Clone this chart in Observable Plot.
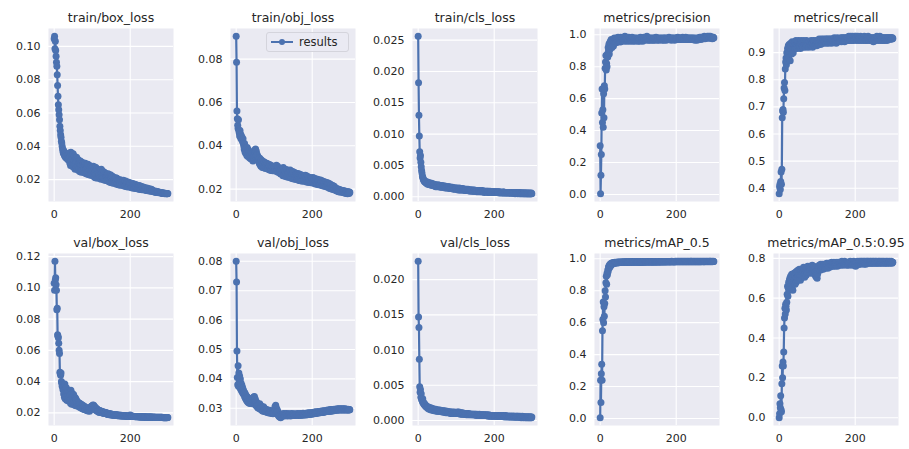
<!DOCTYPE html>
<html>
<head>
<meta charset="utf-8">
<script src="https://cdn.jsdelivr.net/npm/d3@7"></script>
<script src="https://cdn.jsdelivr.net/npm/@observablehq/plot@0.6"></script>
<style>
  body { margin: 0; background: #fff; }
  #fig { position: relative; width: 909px; height: 449px; overflow: hidden; background: #fff;
         font-family: "DejaVu Sans", sans-serif; }
  #fig > svg { position: absolute; }
  #legend { position: absolute; left: 266px; top: 32px; width: 83px; height: 20px; box-sizing: border-box;
            background: rgba(234,234,242,0.8); border: 1px solid #d4d4dc; border-radius: 3px;
            display: flex; align-items: center; font-size: 11.5px; color: #262626; }
  #legend svg { margin: 0 5px 0 3px; }
</style>
</head>
<body>
<div id="fig"></div>
<script>
// Per-epoch training log (epochs 0..299), one array per logged metric.
const trainBox = [
.1045,.1060,.0985,.1030,.0975,.0940,.0905,.0880,.0830,.0765,.0700,.0650,.0620,.0590,.0560,.0520,.0495,.0470,.0455,.0430,
.0420,.0400,.0385,.0372,.0360,.0375,.0352,.0345,.0362,.0338,.0350,.0331,.0356,.0342,.0325,.0348,.0336,.0318,.0340,.0329,
.0360,.0300,.0338,.0285,.0365,.0318,.0290,.0350,.0280,.0325,.0355,.0275,.0312,.0340,.0288,.0262,.0330,.0298,.0272,.0335,
.0310,.0262,.0322,.0280,.0255,.0315,.0270,.0298,.0248,.0312,.0266,.0292,.0245,.0305,.0260,.0288,.0250,.0300,.0262,.0242,
.0288,.0245,.0298,.0258,.0236,.0290,.0250,.0275,.0232,.0292,.0245,.0270,.0230,.0285,.0240,.0268,.0226,.0280,.0240,.0230,
.0272,.0225,.0258,.0280,.0232,.0218,.0268,.0240,.0212,.0275,.0230,.0258,.0210,.0265,.0235,.0220,.0258,.0208,.0245,.0222,
.0255,.0212,.0238,.0202,.0262,.0218,.0242,.0205,.0250,.0210,.0232,.0198,.0245,.0215,.0200,.0238,.0195,.0225,.0230,.0198,
.0228,.0195,.0235,.0205,.0188,.0225,.0200,.0185,.0230,.0196,.0215,.0182,.0222,.0194,.0180,.0218,.0188,.0210,.0178,.0205,
.0205,.0178,.0212,.0188,.0172,.0208,.0182,.0176,.0202,.0170,.0196,.0180,.0168,.0200,.0174,.0190,.0166,.0196,.0172,.0185,
.0190,.0166,.0196,.0172,.0162,.0188,.0170,.0160,.0192,.0165,.0180,.0158,.0186,.0166,.0176,.0156,.0184,.0162,.0174,.0160,
.0180,.0158,.0170,.0152,.0178,.0156,.0166,.0150,.0175,.0155,.0164,.0148,.0172,.0152,.0162,.0147,.0170,.0151,.0160,.0146,
.0162,.0147,.0158,.0143,.0165,.0146,.0156,.0141,.0160,.0144,.0152,.0140,.0158,.0142,.0150,.0139,.0155,.0141,.0148,.0138,
.0150,.0138,.0146,.0135,.0150,.0137,.0143,.0133,.0147,.0136,.0141,.0132,.0144,.0134,.0140,.0131,.0142,.0133,.0138,.0130,
.0133,.0128,.0131,.0127,.0132,.0126,.0129,.0124,.0130,.0125,.0127,.0123,.0128,.0124,.0126,.0122,.0125,.0123,.0124,.0121,
.0123,.0120,.0122,.0119,.0121,.0118,.0120,.0117,.0119,.0118,.0118,.0116,.0118,.0117,.0117,.0116,.0117,.0116,.0116,.0117
];
const trainObj = [
.0905,.0785,.0560,.0525,.0495,.0480,.0520,.0470,.0460,.0445,.0470,.0455,.0435,.0448,.0430,.0440,.0425,.0418,.0432,.0410,
.0400,.0385,.0410,.0372,.0395,.0365,.0388,.0378,.0355,.0392,.0368,.0350,.0382,.0360,.0375,.0345,.0370,.0358,.0340,.0368,
.0352,.0338,.0365,.0345,.0330,.0360,.0348,.0372,.0355,.0380,.0368,.0385,.0350,.0375,.0342,.0360,.0335,.0352,.0328,.0345,
.0330,.0318,.0342,.0312,.0325,.0305,.0335,.0315,.0322,.0300,.0328,.0310,.0318,.0298,.0325,.0306,.0315,.0295,.0320,.0302,
.0310,.0296,.0318,.0300,.0292,.0315,.0298,.0305,.0288,.0312,.0295,.0302,.0286,.0308,.0293,.0300,.0285,.0305,.0290,.0298,
.0295,.0285,.0305,.0290,.0300,.0282,.0310,.0295,.0288,.0305,.0278,.0298,.0285,.0292,.0275,.0290,.0282,.0270,.0288,.0276,
.0295,.0272,.0288,.0262,.0300,.0278,.0262,.0292,.0268,.0285,.0258,.0290,.0270,.0280,.0256,.0288,.0265,.0276,.0255,.0282,
.0278,.0255,.0288,.0262,.0275,.0250,.0282,.0258,.0272,.0248,.0280,.0256,.0268,.0246,.0276,.0254,.0266,.0244,.0272,.0250,
.0266,.0246,.0272,.0250,.0262,.0240,.0270,.0248,.0258,.0238,.0266,.0245,.0256,.0237,.0264,.0244,.0255,.0236,.0260,.0242,
.0258,.0238,.0264,.0242,.0252,.0233,.0260,.0240,.0250,.0231,.0256,.0238,.0248,.0230,.0254,.0236,.0246,.0229,.0251,.0234,
.0248,.0230,.0254,.0234,.0244,.0226,.0250,.0231,.0241,.0224,.0247,.0229,.0239,.0222,.0245,.0227,.0236,.0220,.0242,.0225,
.0236,.0220,.0242,.0223,.0233,.0216,.0238,.0221,.0230,.0214,.0235,.0219,.0228,.0213,.0233,.0217,.0226,.0211,.0230,.0215,
.0224,.0209,.0228,.0212,.0220,.0204,.0225,.0208,.0217,.0201,.0220,.0206,.0213,.0199,.0216,.0203,.0210,.0197,.0213,.0200,
.0203,.0196,.0205,.0194,.0200,.0191,.0202,.0193,.0197,.0188,.0199,.0192,.0195,.0186,.0197,.0190,.0193,.0185,.0194,.0188,
.0191,.0185,.0193,.0184,.0189,.0182,.0191,.0184,.0187,.0180,.0189,.0183,.0186,.0179,.0188,.0182,.0186,.0180,.0187,.0184
];
const trainCls = [
.0256,.0182,.0130,.0097,.0072,.0062,.0066,.0055,.0048,.0042,.0038,.0033,.0031,.0029,.0027,.0026,.0025,.0024,.0025,.0023,
.0023,.0022,.0024,.0021,.0022,.0020,.0023,.0021,.0020,.0022,.0019,.0021,.0020,.0022,.0019,.0020,.0018,.0021,.0019,.0020,
.0019,.0018,.0020,.0017,.0019,.0018,.0016,.0019,.0017,.0018,.0016,.0018,.0017,.0019,.0016,.0017,.0018,.0016,.0017,.0015,
.0017,.0016,.0018,.0015,.0017,.0016,.0015,.0017,.0016,.0015,.0017,.0014,.0016,.0015,.0016,.0014,.0016,.0015,.0014,.0016,
.0015,.0014,.0016,.0013,.0015,.0014,.0013,.0015,.0014,.0013,.0015,.0013,.0014,.0012,.0014,.0013,.0014,.0012,.0013,.0014,
.0013,.0012,.0014,.0012,.0013,.0011,.0013,.0012,.0014,.0011,.0013,.0012,.0011,.0013,.0012,.0011,.0012,.0013,.0011,.0012,
.0012,.0011,.0012,.0010,.0012,.0011,.0010,.0012,.0011,.0010,.0011,.0012,.0010,.0011,.0010,.0011,.0009,.0011,.0010,.0011,
.0010,.0011,.0009,.0010,.0011,.0009,.0010,.0009,.0011,.0010,.0009,.0010,.0009,.0010,.0008,.0010,.0009,.0010,.0008,.0009,
.0009,.0010,.0008,.0009,.0010,.0008,.0009,.0008,.0009,.0010,.0008,.0009,.0008,.0009,.0007,.0009,.0008,.0009,.0008,.0008,
.0009,.0008,.0009,.0007,.0008,.0009,.0008,.0007,.0008,.0009,.0007,.0008,.0008,.0007,.0008,.0007,.0008,.0008,.0007,.0008,
.0008,.0007,.0008,.0007,.0008,.0007,.0007,.0008,.0007,.0008,.0007,.0007,.0008,.0006,.0007,.0008,.0007,.0007,.0006,.0007,
.0007,.0007,.0006,.0007,.0008,.0006,.0007,.0007,.0006,.0007,.0007,.0006,.0007,.0006,.0007,.0007,.0006,.0007,.0006,.0007,
.0006,.0007,.0006,.0007,.0006,.0006,.0007,.0006,.0006,.0007,.0006,.0006,.0007,.0006,.0006,.0005,.0006,.0007,.0006,.0006,
.0006,.0006,.0005,.0006,.0006,.0007,.0006,.0005,.0006,.0006,.0005,.0006,.0006,.0005,.0006,.0006,.0005,.0006,.0005,.0006,
.0005,.0006,.0005,.0006,.0005,.0006,.0005,.0005,.0006,.0005,.0005,.0006,.0005,.0005,.0006,.0005,.0005,.0005,.0006,.0005
];
const precision = [
.305,.005,.120,.250,.510,.660,.450,.530,.420,.630,.480,.680,.660,.790,.830,.870,.780,.820,.800,.880,
.860,.920,.900,.940,.880,.950,.910,.960,.930,.970,.940,.920,.960,.950,.970,.930,.960,.980,.950,.970,
.960,.975,.950,.980,.965,.970,.955,.985,.970,.960,.980,.965,.975,.955,.985,.970,.960,.980,.975,.965,
.980,.965,.985,.970,.960,.990,.975,.965,.980,.970,.985,.960,.975,.980,.965,.985,.970,.975,.960,.980,
.970,.980,.965,.975,.985,.960,.975,.970,.980,.965,.975,.960,.980,.970,.965,.975,.980,.965,.970,.960,
.975,.965,.980,.970,.960,.975,.985,.970,.965,.980,.970,.975,.960,.980,.970,.985,.975,.965,.980,.970,
.985,.970,.975,.990,.975,.965,.980,.970,.975,.965,.980,.970,.975,.980,.965,.975,.970,.980,.975,.965,
.970,.980,.975,.965,.980,.970,.975,.985,.970,.975,.965,.980,.970,.975,.980,.965,.975,.970,.980,.975,
.970,.975,.980,.965,.975,.970,.980,.975,.965,.980,.970,.975,.980,.970,.965,.975,.980,.970,.975,.970,
.975,.985,.970,.975,.980,.970,.975,.965,.980,.975,.970,.980,.975,.970,.980,.975,.965,.975,.980,.970,
.975,.980,.970,.975,.985,.970,.980,.975,.970,.980,.975,.970,.980,.975,.980,.970,.975,.985,.975,.970,
.980,.975,.970,.980,.975,.985,.970,.980,.975,.970,.980,.975,.980,.970,.975,.980,.975,.970,.980,.975,
.975,.980,.970,.975,.980,.975,.970,.980,.975,.965,.975,.970,.980,.975,.970,.965,.975,.980,.970,.975,
.980,.975,.985,.975,.980,.970,.985,.980,.975,.985,.980,.975,.985,.980,.990,.980,.975,.985,.980,.985,
.985,.980,.990,.985,.980,.985,.990,.980,.985,.980,.990,.985,.980,.985,.980,.975,.985,.980,.985,.980
];
const recall = [
.380,.405,.415,.395,.425,.460,.415,.470,.660,.685,.690,.680,.730,.770,.790,.760,.840,.865,.880,.855,
.900,.870,.915,.890,.925,.880,.930,.905,.920,.870,.935,.910,.925,.895,.940,.915,.930,.900,.935,.920,
.925,.940,.915,.935,.945,.920,.930,.915,.940,.925,.935,.945,.920,.930,.940,.925,.915,.935,.945,.930,
.935,.925,.940,.920,.935,.945,.930,.925,.940,.935,.920,.930,.945,.935,.925,.940,.930,.935,.920,.940,
.930,.940,.935,.925,.945,.930,.940,.935,.920,.935,.945,.930,.940,.925,.935,.945,.930,.940,.935,.925,
.940,.935,.945,.930,.940,.950,.935,.945,.940,.930,.945,.950,.940,.935,.945,.940,.950,.935,.945,.940,
.945,.950,.940,.945,.935,.950,.945,.940,.950,.945,.935,.945,.950,.940,.945,.950,.940,.945,.935,.950,
.945,.950,.940,.945,.950,.955,.945,.940,.950,.945,.935,.950,.945,.955,.940,.950,.945,.950,.940,.945,
.950,.945,.955,.950,.940,.950,.955,.945,.950,.955,.945,.950,.940,.955,.950,.945,.955,.950,.945,.955,
.950,.955,.945,.960,.950,.955,.945,.950,.960,.955,.950,.945,.955,.960,.950,.955,.945,.950,.955,.960,
.955,.950,.960,.955,.945,.955,.950,.960,.955,.950,.945,.955,.950,.955,.960,.950,.945,.955,.950,.955,
.950,.955,.945,.955,.960,.950,.955,.945,.950,.955,.950,.945,.955,.950,.960,.955,.950,.945,.955,.950,
.955,.950,.945,.950,.955,.945,.950,.955,.940,.950,.955,.950,.945,.955,.950,.945,.955,.960,.950,.955,
.950,.955,.945,.955,.950,.960,.955,.950,.945,.955,.950,.955,.950,.945,.955,.950,.955,.950,.945,.950,
.955,.950,.955,.950,.945,.955,.950,.955,.950,.955,.950,.955,.950,.950,.955,.950,.955,.950,.955,.952
];
const valBox = [
.1030,.0985,.1170,.1050,.1065,.1020,.0985,.0860,.0870,.0700,.0690,.0680,.0645,.0600,.0580,.0460,.0450,.0440,.0455,.0400,
.0390,.0370,.0380,.0350,.0365,.0320,.0345,.0300,.0385,.0290,.0335,.0310,.0360,.0280,.0325,.0305,.0340,.0275,.0315,.0295,
.0335,.0280,.0315,.0262,.0345,.0288,.0255,.0325,.0272,.0305,.0258,.0318,.0270,.0250,.0300,.0262,.0295,.0245,.0285,.0258,
.0275,.0248,.0268,.0255,.0240,.0265,.0250,.0235,.0260,.0245,.0232,.0255,.0240,.0228,.0250,.0238,.0225,.0245,.0232,.0222,
.0240,.0225,.0220,.0236,.0218,.0230,.0215,.0228,.0222,.0212,.0230,.0218,.0225,.0210,.0232,.0220,.0238,.0226,.0242,.0230,
.0245,.0232,.0250,.0236,.0248,.0228,.0240,.0225,.0236,.0218,.0230,.0215,.0226,.0212,.0222,.0208,.0218,.0205,.0215,.0202,
.0215,.0205,.0212,.0203,.0210,.0201,.0208,.0200,.0206,.0198,.0205,.0197,.0204,.0196,.0202,.0195,.0201,.0194,.0200,.0193,
.0198,.0190,.0196,.0189,.0195,.0188,.0194,.0187,.0193,.0187,.0192,.0186,.0191,.0186,.0190,.0185,.0190,.0185,.0189,.0184,
.0189,.0184,.0188,.0183,.0187,.0183,.0186,.0182,.0186,.0182,.0185,.0181,.0185,.0181,.0184,.0180,.0184,.0180,.0183,.0180,
.0183,.0180,.0182,.0179,.0182,.0179,.0181,.0179,.0181,.0178,.0180,.0178,.0180,.0178,.0180,.0177,.0179,.0177,.0179,.0177,
.0186,.0178,.0180,.0177,.0179,.0177,.0178,.0176,.0178,.0176,.0177,.0176,.0177,.0175,.0177,.0175,.0176,.0175,.0176,.0175,
.0176,.0175,.0176,.0174,.0176,.0174,.0175,.0174,.0175,.0174,.0175,.0173,.0175,.0173,.0174,.0173,.0174,.0173,.0174,.0173,
.0174,.0173,.0174,.0172,.0174,.0172,.0173,.0172,.0173,.0172,.0173,.0172,.0173,.0172,.0173,.0171,.0173,.0171,.0172,.0171,
.0172,.0171,.0172,.0171,.0172,.0171,.0172,.0170,.0172,.0170,.0171,.0170,.0171,.0170,.0171,.0170,.0171,.0170,.0171,.0170,
.0171,.0170,.0171,.0170,.0171,.0170,.0170,.0169,.0170,.0169,.0170,.0169,.0170,.0169,.0170,.0169,.0170,.0169,.0170,.0170
];
const valObj = [
.0800,.0730,.0495,.0405,.0380,.0445,.0375,.0420,.0390,.0410,.0370,.0400,.0365,.0385,.0360,.0378,.0355,.0370,.0350,.0362,
.0348,.0355,.0340,.0352,.0335,.0346,.0330,.0342,.0326,.0338,.0322,.0336,.0320,.0334,.0318,.0332,.0316,.0330,.0322,.0328,
.0325,.0318,.0330,.0315,.0335,.0320,.0338,.0322,.0340,.0318,.0332,.0312,.0325,.0308,.0320,.0305,.0316,.0302,.0312,.0300,
.0312,.0300,.0315,.0298,.0310,.0296,.0306,.0294,.0304,.0292,.0302,.0290,.0305,.0294,.0300,.0290,.0298,.0288,.0296,.0287,
.0296,.0288,.0294,.0286,.0292,.0285,.0290,.0284,.0293,.0286,.0291,.0284,.0289,.0283,.0288,.0282,.0287,.0281,.0290,.0284,
.0295,.0288,.0305,.0292,.0310,.0290,.0300,.0285,.0295,.0280,.0288,.0275,.0282,.0272,.0278,.0270,.0276,.0268,.0275,.0272,
.0278,.0273,.0280,.0275,.0282,.0276,.0279,.0274,.0281,.0276,.0280,.0275,.0282,.0277,.0279,.0274,.0281,.0276,.0280,.0275,
.0281,.0276,.0279,.0274,.0280,.0277,.0282,.0276,.0279,.0275,.0281,.0277,.0280,.0275,.0279,.0276,.0281,.0277,.0280,.0276,
.0280,.0277,.0282,.0276,.0279,.0275,.0281,.0278,.0280,.0276,.0282,.0277,.0279,.0276,.0281,.0278,.0283,.0277,.0280,.0278,
.0282,.0278,.0281,.0277,.0283,.0279,.0282,.0278,.0284,.0279,.0283,.0280,.0285,.0279,.0283,.0280,.0284,.0281,.0285,.0280,
.0284,.0281,.0286,.0282,.0285,.0281,.0287,.0283,.0286,.0282,.0288,.0283,.0286,.0284,.0288,.0284,.0287,.0285,.0289,.0285,
.0288,.0285,.0290,.0286,.0289,.0286,.0291,.0287,.0290,.0286,.0292,.0288,.0290,.0287,.0292,.0288,.0291,.0289,.0293,.0289,
.0292,.0289,.0294,.0290,.0293,.0290,.0295,.0291,.0294,.0290,.0296,.0292,.0295,.0291,.0296,.0293,.0295,.0292,.0297,.0293,
.0296,.0293,.0297,.0294,.0296,.0293,.0298,.0294,.0297,.0294,.0298,.0295,.0297,.0294,.0298,.0295,.0297,.0294,.0298,.0295,
.0297,.0294,.0298,.0295,.0297,.0294,.0298,.0295,.0297,.0294,.0297,.0295,.0296,.0294,.0297,.0294,.0296,.0294,.0296,.0295
];
const valCls = [
.0226,.0147,.0132,.0087,.0048,.0040,.0044,.0033,.0038,.0030,.0029,.0027,.0031,.0025,.0026,.0023,.0024,.0022,.0023,.0021,
.0020,.0021,.0019,.0020,.0018,.0019,.0017,.0019,.0018,.0016,.0018,.0017,.0016,.0018,.0015,.0017,.0016,.0015,.0017,.0015,
.0016,.0015,.0014,.0016,.0015,.0014,.0016,.0014,.0015,.0013,.0015,.0014,.0013,.0015,.0014,.0013,.0014,.0015,.0013,.0014,
.0014,.0013,.0014,.0012,.0013,.0014,.0012,.0013,.0012,.0014,.0012,.0013,.0012,.0011,.0013,.0012,.0013,.0011,.0012,.0012,
.0012,.0011,.0012,.0011,.0012,.0010,.0012,.0011,.0010,.0011,.0012,.0010,.0011,.0010,.0011,.0012,.0010,.0011,.0010,.0011,
.0011,.0010,.0011,.0012,.0010,.0011,.0010,.0012,.0011,.0010,.0011,.0009,.0010,.0011,.0010,.0009,.0010,.0011,.0009,.0010,
.0010,.0009,.0010,.0009,.0010,.0009,.0010,.0008,.0009,.0010,.0009,.0008,.0009,.0010,.0009,.0008,.0009,.0009,.0008,.0009,
.0009,.0008,.0009,.0008,.0009,.0008,.0009,.0008,.0008,.0009,.0008,.0009,.0008,.0007,.0008,.0009,.0008,.0008,.0007,.0008,
.0008,.0009,.0008,.0007,.0008,.0008,.0007,.0008,.0008,.0007,.0008,.0007,.0008,.0007,.0007,.0008,.0007,.0007,.0008,.0007,
.0007,.0008,.0007,.0007,.0006,.0007,.0008,.0007,.0007,.0006,.0007,.0007,.0006,.0007,.0007,.0006,.0007,.0006,.0007,.0007,
.0007,.0006,.0007,.0006,.0007,.0007,.0006,.0007,.0006,.0006,.0007,.0006,.0007,.0006,.0006,.0007,.0006,.0006,.0007,.0006,
.0006,.0007,.0006,.0006,.0007,.0006,.0006,.0005,.0006,.0006,.0007,.0006,.0006,.0005,.0006,.0006,.0006,.0005,.0006,.0006,
.0006,.0005,.0006,.0006,.0005,.0006,.0006,.0005,.0006,.0005,.0006,.0006,.0005,.0006,.0005,.0005,.0006,.0005,.0005,.0006,
.0005,.0006,.0005,.0005,.0006,.0005,.0005,.0005,.0006,.0005,.0005,.0004,.0005,.0005,.0006,.0005,.0005,.0004,.0005,.0005,
.0005,.0005,.0004,.0005,.0005,.0004,.0005,.0005,.0004,.0005,.0005,.0004,.0005,.0004,.0005,.0005,.0004,.0005,.0004,.0005
];
const mAP50 = [
.005,.240,.100,.280,.340,.240,.550,.620,.730,.600,.700,.640,.720,.800,.760,.850,.890,.840,.910,.900,
.930,.920,.950,.940,.960,.945,.965,.955,.970,.960,.972,.965,.975,.968,.974,.970,.976,.972,.978,.974,
.976,.973,.978,.975,.977,.974,.979,.976,.978,.975,.979,.976,.978,.977,.980,.976,.979,.977,.980,.978,
.979,.977,.980,.978,.981,.977,.980,.978,.981,.979,.980,.977,.981,.978,.980,.979,.981,.978,.980,.979,
.981,.978,.980,.979,.982,.978,.981,.979,.980,.978,.982,.979,.981,.978,.980,.979,.982,.980,.981,.978,
.980,.978,.982,.979,.981,.977,.980,.979,.982,.978,.981,.980,.979,.981,.978,.982,.980,.979,.981,.980,
.982,.979,.981,.980,.983,.979,.981,.980,.982,.979,.981,.980,.983,.980,.981,.979,.982,.980,.981,.980,
.982,.980,.981,.979,.983,.980,.982,.980,.981,.979,.982,.981,.983,.980,.982,.980,.981,.980,.983,.981,
.982,.980,.983,.981,.982,.980,.983,.981,.982,.980,.983,.981,.982,.981,.983,.980,.982,.981,.983,.981,
.983,.981,.982,.980,.983,.981,.982,.981,.984,.981,.982,.981,.983,.981,.982,.980,.983,.982,.984,.981,
.983,.981,.984,.982,.983,.981,.984,.982,.983,.981,.984,.982,.983,.982,.984,.981,.983,.982,.984,.982,
.983,.982,.984,.981,.983,.982,.984,.982,.983,.981,.984,.982,.983,.982,.984,.982,.983,.981,.984,.982,
.984,.982,.983,.981,.984,.982,.983,.982,.984,.982,.983,.981,.984,.982,.983,.982,.984,.982,.983,.982,
.984,.982,.983,.982,.984,.982,.983,.982,.984,.983,.983,.982,.984,.982,.983,.982,.984,.983,.983,.982,
.984,.983,.983,.982,.984,.983,.983,.982,.984,.983,.984,.982,.983,.983,.984,.982,.983,.983,.984,.983
];
const mAP5095 = [
.000,.020,.070,.050,.110,.040,.030,.170,.260,.200,.280,.260,.330,.450,.500,.550,.520,.570,.560,.540,
.580,.620,.660,.610,.650,.680,.640,.690,.700,.660,.710,.670,.690,.720,.650,.700,.640,.710,.680,.725,
.690,.715,.670,.730,.700,.680,.735,.705,.690,.740,.710,.695,.725,.745,.700,.720,.690,.740,.715,.730,
.720,.745,.710,.735,.755,.720,.740,.705,.750,.730,.745,.715,.755,.735,.725,.760,.740,.730,.750,.745,
.735,.760,.745,.725,.755,.750,.735,.765,.745,.730,.755,.760,.740,.720,.750,.730,.710,.735,.705,.725,
.700,.720,.740,.755,.745,.765,.750,.760,.740,.770,.755,.745,.765,.750,.770,.760,.745,.765,.755,.770,
.760,.750,.770,.765,.755,.775,.760,.770,.750,.765,.775,.760,.770,.755,.775,.765,.760,.770,.780,.765,
.770,.760,.775,.765,.780,.770,.760,.775,.770,.765,.780,.770,.775,.760,.770,.780,.765,.775,.770,.780,
.775,.765,.780,.770,.775,.785,.770,.780,.765,.775,.780,.770,.785,.775,.770,.780,.775,.765,.780,.775,
.770,.780,.775,.765,.780,.770,.775,.785,.770,.780,.775,.770,.765,.775,.780,.770,.785,.775,.780,.770,
.775,.760,.770,.780,.765,.775,.785,.770,.780,.775,.770,.785,.775,.780,.770,.785,.775,.780,.785,.775,
.780,.775,.785,.770,.780,.785,.775,.780,.770,.785,.780,.775,.785,.780,.775,.785,.780,.775,.780,.785,
.780,.775,.785,.780,.775,.780,.785,.775,.780,.785,.780,.775,.780,.785,.780,.775,.785,.780,.775,.780,
.780,.785,.775,.780,.785,.780,.775,.780,.785,.780,.775,.780,.785,.780,.780,.775,.785,.780,.780,.775,
.780,.785,.780,.775,.780,.785,.780,.775,.780,.780,.785,.780,.775,.780,.780,.785,.780,.775,.780,.780
];

// Panel titles, y tick values and tick label formats, in grid order (2 rows x 5 columns).
const titles = ["train/box_loss", "train/obj_loss", "train/cls_loss", "metrics/precision", "metrics/recall",
                "val/box_loss", "val/obj_loss", "val/cls_loss", "metrics/mAP_0.5", "metrics/mAP_0.5:0.95"];
const series = [trainBox, trainObj, trainCls, precision, recall, valBox, valObj, valCls, mAP50, mAP5095];
const yTicks = [
  [0.02, 0.04, 0.06, 0.08, 0.10],
  [0.02, 0.04, 0.06, 0.08],
  [0.000, 0.005, 0.010, 0.015, 0.020, 0.025],
  [0.0, 0.2, 0.4, 0.6, 0.8, 1.0],
  [0.4, 0.5, 0.6, 0.7, 0.8, 0.9],
  [0.02, 0.04, 0.06, 0.08, 0.10, 0.12],
  [0.03, 0.04, 0.05, 0.06, 0.07, 0.08],
  [0.000, 0.005, 0.010, 0.015, 0.020],
  [0.0, 0.2, 0.4, 0.6, 0.8, 1.0],
  [0.0, 0.2, 0.4, 0.6, 0.8]
];
const yFormats = [".2f", ".2f", ".3f", ".1f", ".1f", ".2f", ".2f", ".3f", ".1f", ".1f"];
const xTicks = [0, 200];

// Layout of the 2 x 5 grid (plot-area boxes, in page pixels).
const colLeft = [48, 230, 412, 594, 773];
const rowTop = [28, 253];
const frameW = 125;
const frameH = [173, 172];
const mL = 50, mR = 6, mT = 30, mB = 26;

const blue = "#4C72B0";
const fig = document.getElementById("fig");

series.forEach((values, i) => {
  const r = Math.floor(i / 5), c = i % 5;
  const data = values.map((v, epoch) => ({epoch, value: v}));
  const n = values.length - 1;
  const [lo, hi] = d3.extent(values);
  const yPad = (hi - lo) * 0.05, xPad = n * 0.05;
  const chart = Plot.plot({
    width: frameW + mL + mR,
    height: frameH[r] + mT + mB,
    marginLeft: mL, marginRight: mR, marginTop: mT, marginBottom: mB,
    style: {background: "transparent", overflow: "visible", fontFamily: "DejaVu Sans, sans-serif",
            fontSize: "11px", color: "#262626"},
    x: {domain: [-xPad, n + xPad], ticks: xTicks, tickSize: 0, tickPadding: 9,
        tickFormat: d3.format("d"), label: null},
    y: {domain: [lo - yPad, hi + yPad], ticks: yTicks[i], tickSize: 0, tickPadding: 8,
        tickFormat: d3.format(yFormats[i]), label: null},
    marks: [
      Plot.frame({fill: "#EAEAF2", stroke: "none"}),
      Plot.ruleX(xTicks, {stroke: "white", strokeWidth: 1.1}),
      Plot.ruleY(yTicks[i], {stroke: "white", strokeWidth: 1.1}),
      Plot.line(data, {x: "epoch", y: "value", stroke: blue, strokeWidth: 2.2}),
      Plot.dot(data, {x: "epoch", y: "value", r: 3.5, fill: blue, stroke: "none"}),
      Plot.text([titles[i]], {frameAnchor: "top", dy: -11, fontSize: 12.5, fill: "#262626", lineAnchor: "middle"})
    ]
  });
  chart.style.left = (colLeft[c] - mL) + "px";
  chart.style.top = (rowTop[r] - mT) + "px";
  fig.appendChild(chart);
});

// Series legend, shown once in the second panel.
const legend = document.createElement("div");
legend.id = "legend";
legend.innerHTML = `<svg width="24" height="8"><line x1="1" y1="4" x2="23" y2="4" stroke="${blue}" stroke-width="2"/>` +
  `<circle cx="12" cy="4" r="3" fill="${blue}"/></svg><span>results</span>`;
fig.appendChild(legend);
</script>
</body>
</html>
